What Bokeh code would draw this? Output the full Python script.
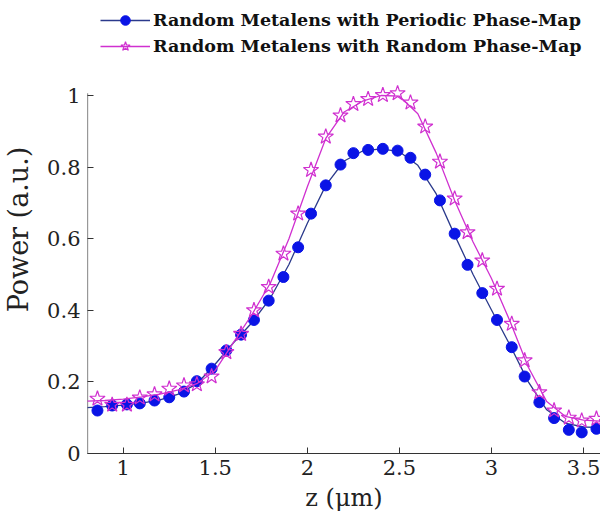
from bokeh.plotting import figure
from bokeh.models import Range1d, FixedTicker, Legend, LegendItem
from bokeh.embed import file_html
from bokeh.resources import INLINE

# ---- data ----
z = [0.86, 0.94, 1.02, 1.09, 1.17, 1.25, 1.33, 1.40, 1.48, 1.56, 1.64, 1.71,
     1.79, 1.87, 1.95, 2.02, 2.10, 2.18, 2.25, 2.33, 2.41, 2.49, 2.56, 2.64,
     2.72, 2.80, 2.87, 2.95, 3.03, 3.11, 3.18, 3.26, 3.34, 3.42, 3.49, 3.57]

periodic = [0.120, 0.134, 0.137, 0.140, 0.148, 0.157, 0.173, 0.202, 0.237, 0.288,
            0.332, 0.373, 0.427, 0.493, 0.576, 0.670, 0.749, 0.807, 0.839, 0.848,
            0.851, 0.846, 0.826, 0.779, 0.707, 0.614, 0.527, 0.448, 0.373, 0.297,
            0.215, 0.143, 0.099, 0.066, 0.059, 0.069]

random_map = [0.153, 0.136, 0.136, 0.156, 0.165, 0.181, 0.190, 0.193, 0.215, 0.283,
              0.334, 0.400, 0.465, 0.558, 0.670, 0.792, 0.885, 0.944, 0.976, 0.990,
              1.001, 1.006, 0.980, 0.913, 0.815, 0.712, 0.618, 0.539, 0.460, 0.362,
              0.260, 0.171, 0.120, 0.100, 0.092, 0.097]

# fitted curves
fit_z = [0.8, 0.9, 1.0, 1.1, 1.2, 1.3, 1.4, 1.5, 1.6, 1.7, 1.8, 1.9, 2.0, 2.1, 2.2,
         2.3, 2.4, 2.5, 2.6, 2.7, 2.8, 2.9, 3.0, 3.1, 3.2, 3.3, 3.4, 3.5, 3.6]
fit_periodic = [0.128, 0.131, 0.135, 0.141, 0.150, 0.166, 0.195, 0.250, 0.310, 0.366,
                0.435, 0.528, 0.643, 0.749, 0.817, 0.845, 0.851, 0.843, 0.805, 0.725,
                0.610, 0.500, 0.401, 0.303, 0.200, 0.122, 0.085, 0.074, 0.073]
fit_random = [0.146, 0.148, 0.152, 0.158, 0.166, 0.178, 0.195, 0.232, 0.311, 0.389,
              0.477, 0.600, 0.745, 0.880, 0.954, 0.984, 1.000, 0.998, 0.949, 0.839,
              0.707, 0.591, 0.489, 0.370, 0.241, 0.145, 0.104, 0.093, 0.090]

x_ticks = [1, 1.5, 2, 2.5, 3, 3.5]
x_tick_labels = ["1", "1.5", "2", "2.5", "3", "3.5"]
y_ticks = [0, 0.2, 0.4, 0.6, 0.8, 1.0]
y_tick_labels = ["0", "0.2", "0.4", "0.6", "0.8", "1"]

label_periodic = "Random Metalens with Periodic Phase-Map"
label_random = "Random Metalens with Random Phase-Map"

# axis extents (data units)
x_min, x_max = 0.806, 3.592
y_axis_top = 1.006
frame_top_px, frame_bottom_px, px_per_unit = 5, 453, 358.0
y_view_top = (frame_bottom_px - frame_top_px) / px_per_unit

# ---- figure ----
p = figure(width=600, height=520, output_backend="svg", toolbar_location=None,
           x_range=Range1d(x_min, x_max), y_range=Range1d(0, y_view_top),
           min_border_left=87, min_border_right=0, min_border_top=frame_top_px,
           min_border_bottom=520 - frame_bottom_px)
p.outline_line_color = None
p.xgrid.visible = False
p.ygrid.visible = False
p.background_fill_color = "white"

axis_col = "#333333"
# visible part of the y axis line (stops at the top of the data range)
p.segment(x0=[x_min], y0=[0], x1=[x_min], y1=[y_axis_top],
          line_color=axis_col, line_width=1.2)

blue_line = "#2b3a8c"
blue_fill = "#0a14e6"
mag = "#d030d0"

l1 = p.line(fit_z, fit_periodic, line_color=blue_line, line_width=1.3)
s1 = p.scatter(z, periodic, marker="circle", size=11, fill_color=blue_fill,
               line_color=blue_fill)
l2 = p.line(fit_z, fit_random, line_color=mag, line_width=1.3)
s2 = p.scatter(z, random_map, marker="star", size=16, fill_alpha=0,
               line_color=mag, line_width=1.2)

font = "DejaVu Serif"
for ax in (p.xaxis[0], p.yaxis[0]):
    ax.axis_line_color = axis_col
    ax.major_tick_line_color = axis_col
    ax.major_tick_in = 6
    ax.major_tick_out = 0
    ax.minor_tick_line_color = None
    ax.major_label_text_font = font
    ax.major_label_text_font_size = "21px"
    ax.major_label_text_color = "#222222"
    ax.axis_label_text_font = font
    ax.axis_label_text_font_style = "normal"
    ax.axis_label_text_color = "#222222"
p.yaxis.axis_line_color = None

p.xaxis.axis_label_text_font_size = "24px"
p.yaxis.axis_label_text_font_size = "27px"
p.xaxis.ticker = FixedTicker(ticks=x_ticks)
p.xaxis.major_label_overrides = dict(zip(x_ticks, x_tick_labels))
p.yaxis.ticker = FixedTicker(ticks=y_ticks)
p.yaxis.major_label_overrides = dict(zip(y_ticks, y_tick_labels))
p.xaxis.axis_label = "z (μm)"
p.yaxis.axis_label = "Power (a.u.)"
p.xaxis.major_label_standoff = 6
p.yaxis.major_label_standoff = 7
p.xaxis.axis_label_standoff = 6
p.yaxis.axis_label_standoff = 10

legend = Legend(items=[LegendItem(label=label_periodic, renderers=[l1, s1]),
                       LegendItem(label=label_random, renderers=[l2, s2])],
                location=(13, 395), orientation="vertical")
legend.padding = 0
legend.margin = 0
legend.spacing = 2
legend.glyph_width = 50
legend.glyph_height = 24
legend.label_height = 24
legend.label_standoff = 3
legend.label_text_font = font
legend.label_text_font_style = "bold"
legend.label_text_font_size = "17.5px"
legend.label_text_color = "#111111"
legend.border_line_alpha = 0
legend.background_fill_alpha = 0
p.add_layout(legend, "center")

open("out.html", "w").write(file_html(p, INLINE))
